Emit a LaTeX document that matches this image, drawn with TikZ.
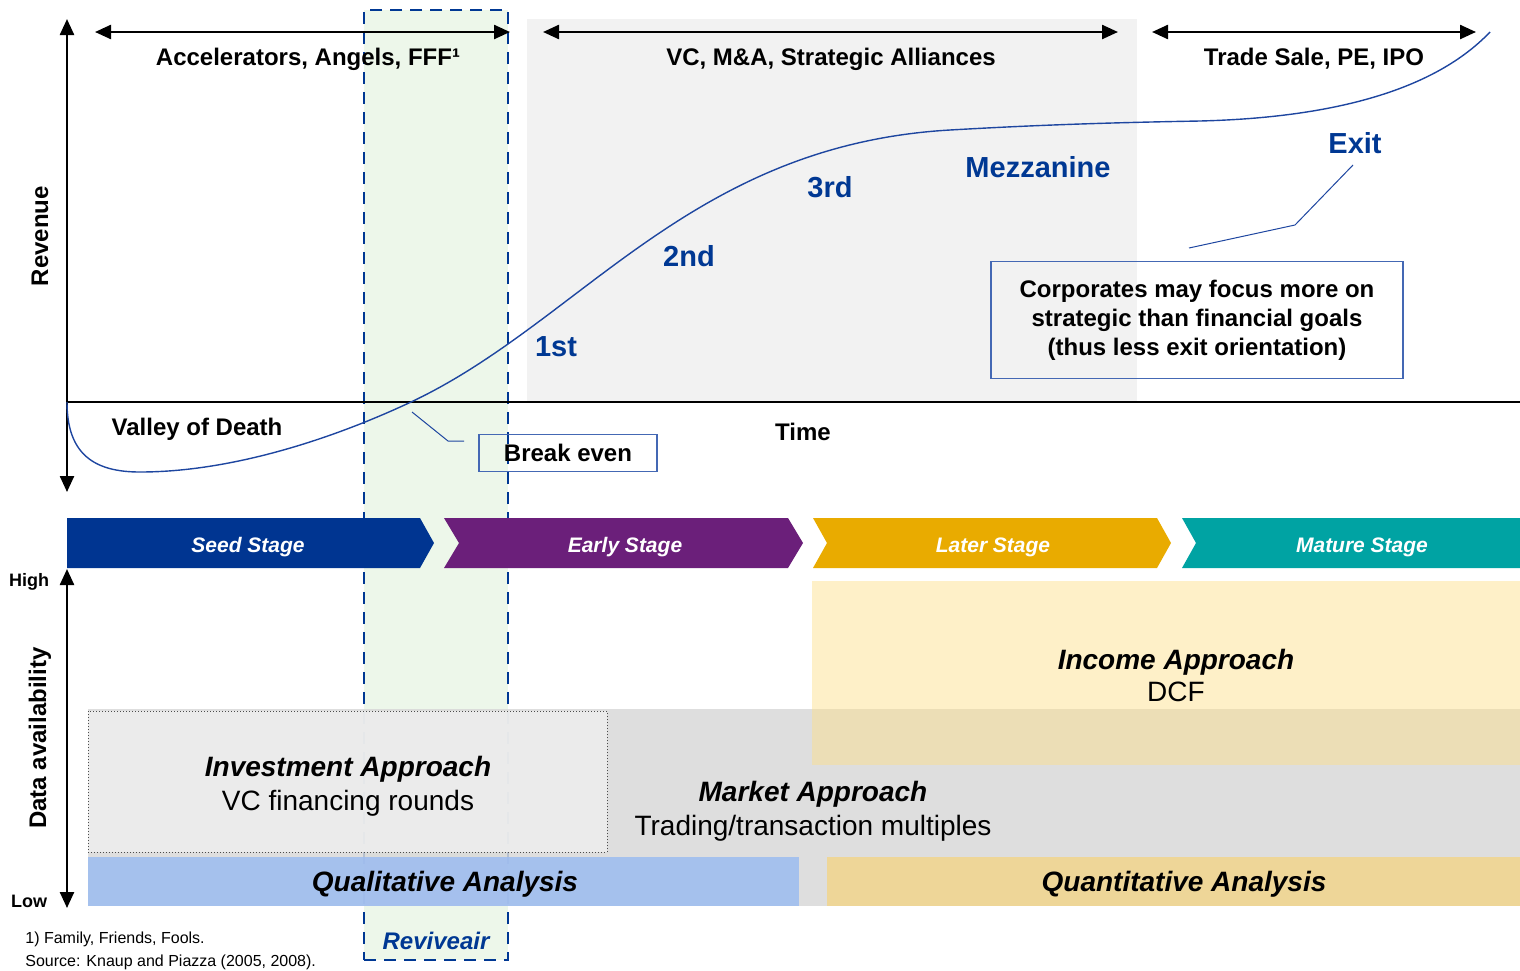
\documentclass[tikz,border=0pt]{standalone}
\usepackage{fontspec}
\setmainfont{Liberation Sans}
\usetikzlibrary{arrows.meta,positioning}

\definecolor{darkblue}{RGB}{0,56,147}
\definecolor{curveblue}{RGB}{30,70,160}
\definecolor{boxblue}{RGB}{68,104,180}
\definecolor{stripgreen}{RGB}{237,247,234}
\definecolor{vcgray}{RGB}{242,242,242}
\definecolor{seedblue}{RGB}{0,53,145}
\definecolor{earlypurple}{RGB}{107,31,122}
\definecolor{latergold}{RGB}{233,171,0}
\definecolor{matureteal}{RGB}{0,163,163}
\definecolor{incomeyellow}{RGB}{253,223,138}
\definecolor{marketgray}{RGB}{216,216,216}
\definecolor{investgray}{RGB}{238,238,238}
\definecolor{qualblue}{RGB}{156,188,241}
\definecolor{quantyellow}{RGB}{238,214,152}

\begin{document}
\begin{tikzpicture}[
  x=0.5pt, y=-0.5pt,
  >={Triangle[length=8pt,width=7pt]},
  axisline/.style={<->, line width=1.2pt},
  spanarrow/.style={<->, line width=1.2pt},
  lbl/.style={font=\fontsize{12}{14.5}\selectfont\bfseries, align=center, inner sep=1pt},
  roundlbl/.style={font=\fontsize{14.5}{17}\selectfont\bfseries, text=darkblue, inner sep=1pt},
  stagelbl/.style={font=\fontsize{10.5}{12}\selectfont\bfseries\itshape, text=white},
  approach/.style={font=\fontsize{14}{17}\selectfont, align=center, inner sep=1pt},
  barlbl/.style={font=\fontsize{14}{16.5}\selectfont\bfseries\itshape, inner sep=1pt},
  axlbl/.style={font=\fontsize{9}{11}\selectfont\bfseries, inner sep=1pt},
  note/.style={font=\fontsize{8}{10}\selectfont, anchor=west, inner sep=0pt},
  callout/.style={draw=boxblue, line width=0.6pt, align=center},
  leader/.style={draw=curveblue, line width=0.5pt}
]
\useasboundingbox (0,0) rectangle (1520,970);

% Reviveair strip
\node[fill=stripgreen, draw=darkblue, line width=1.4pt, dash pattern=on 6pt off 4pt,
      minimum width=72pt, minimum height=475pt, inner sep=0pt] (strip) at (436,485) {};

% VC phase shading
\fill[vcgray] (527,19) rectangle (1137,401);

% axes
\coordinate (revtop) at (67,19);
\coordinate (revbot) at (67,492);
\coordinate (origin) at (67,402);
\coordinate (timeend) at (1520,402);
\draw[axisline] (revtop) -- (revbot);
\draw[line width=1.2pt] (origin) -- (timeend);

% revenue curve
\draw[curveblue, line width=0.7pt] (origin)
  .. controls (67,455) and (95,472) .. (140,472)
  .. controls (230,472) and (330,440) .. (411,402)
  .. controls (581,322) and (690,145) .. (950,130)
  .. controls (1030,125.4) and (1100,122.8) .. (1200,121)
  .. controls (1320,118) and (1430,95) .. (1490,32);

% financing spans
\coordinate (s1l) at (95,32);   \coordinate (s1r) at (510,32);
\coordinate (s2l) at (543,32);  \coordinate (s2r) at (1118,32);
\coordinate (s3l) at (1152,32); \coordinate (s3r) at (1476,32);
\draw[spanarrow] (s1l) -- (s1r);
\draw[spanarrow] (s2l) -- (s2r);
\draw[spanarrow] (s3l) -- (s3r);
\node[lbl] (angels) at (308,59) {Accelerators, Angels, FFF¹};
\node[lbl] (vcma) at (831,59) {VC, M\&A, Strategic Alliances};
\node[lbl] (tradesale) at (1314,59) {Trade Sale, PE, IPO};

\node[lbl, rotate=90] (revenue) at (40,236) {Revenue};
\node[lbl] (valley) at (197,429) {Valley of Death};
\node[lbl] (time) at (803,432) {Time};

% financing rounds
\node[roundlbl] (first) at (556,347) {1st};
\node[roundlbl] (second) at (689,256) {2nd};
\node[roundlbl] (third) at (830,187) {3rd};
\node[roundlbl] (mezz) at (1038,167) {Mezzanine};
\node[roundlbl] (exit) at (1355,143) {Exit};

% break even callout
\node[callout, lbl, minimum width=89pt, minimum height=18.5pt] (breakeven) at (568,453) {Break even};
\coordinate (bepoint) at (412,412);
\coordinate (beknee) at (448,441);
\coordinate (beend) at (464,441);
\draw[leader] (bepoint) -- (beknee) -- (beend);

% exit callout
\node[callout, lbl, minimum width=206pt, minimum height=58.5pt] (corporates) at (1197,320)
  {Corporates may focus more on\\strategic than financial goals\\(thus less exit orientation)};
\coordinate (exittail) at (1353,165);
\coordinate (exitknee) at (1295,225);
\coordinate (exitend) at (1189,248);
\draw[leader] (exittail) -- (exitknee) -- (exitend);

% stages
\fill[seedblue] (67,518) -- (420,518) -- (434,543) -- (420,568) -- (67,568) -- cycle;
\fill[earlypurple] (444,518) -- (788,518) -- (803,543) -- (788,568) -- (444,568) -- (459,543) -- cycle;
\fill[latergold] (813,518) -- (1157,518) -- (1171,543) -- (1157,568) -- (813,568) -- (827,543) -- cycle;
\fill[matureteal] (1182,518) -- (1520,518) -- (1520,568) -- (1182,568) -- (1196,543) -- cycle;
\node[stagelbl] (seed) at (248,547) {Seed Stage};
\node[stagelbl] (early) at (625,547) {Early Stage};
\node[stagelbl] (later) at (993,547) {Later Stage};
\node[stagelbl] (mature) at (1362,547) {Mature Stage};

% data availability axis
\coordinate (datatop) at (67,569);
\coordinate (databot) at (67,908);
\draw[axisline] (datatop) -- (databot);
\node[axlbl] (high) at (29,582) {High};
\node[axlbl] (low) at (29,901) {Low};
\node[lbl, rotate=90] (dataavail) at (40,738) {Data availability};

% valuation approaches
\fill[marketgray, fill opacity=0.85] (88,709) rectangle (1520,906);
\fill[incomeyellow, fill opacity=0.47] (812,581) rectangle (1520,765);
\draw[densely dotted, draw=black!70, line width=0.5pt, fill=investgray, fill opacity=0.85] (88,711) rectangle (607,852);
\fill[qualblue, fill opacity=0.85] (88,857) rectangle (799,906);
\fill[quantyellow] (827,857) rectangle (1520,906);

\node[approach, font=\fontsize{14}{16}\selectfont] (income) at (1176,675) {\textbf{\textit{Income Approach}}\\DCF};
\node[approach] (investment) at (348,786) {\textbf{\textit{Investment Approach}}\\VC financing rounds};
\node[approach] (market) at (813,811) {\textbf{\textit{Market Approach}}\\Trading/transaction multiples};
\node[barlbl] (qualitative) at (445,884) {Qualitative Analysis};
\node[barlbl] (quantitative) at (1184,884) {Quantitative Analysis};

\node[lbl, font=\fontsize{12}{14.5}\selectfont\bfseries\itshape, text=darkblue] (reviveair) at (436,941) {Reviveair};

% footnotes
\node[note] (fn1) at (25,939) {1) Family, Friends, Fools.};
\node[note, below=4pt of fn1.south west, anchor=north west] (source) {Source: Knaup and Piazza (2005, 2008).};
\end{tikzpicture}
\end{document}
